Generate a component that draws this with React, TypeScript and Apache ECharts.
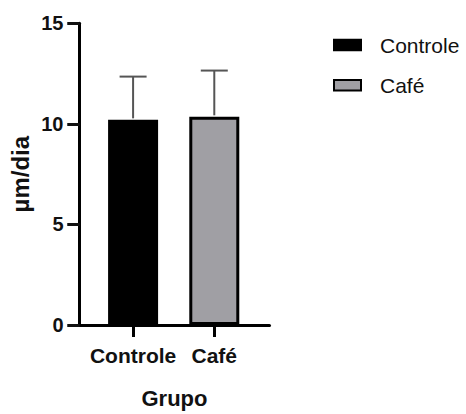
import React, { useEffect, useRef } from "react";
import * as echarts from "echarts";

const categories = ["Controle", "Café"];
const means = [10.2, 10.35];
const sds = [2.15, 2.3];
const yMin = 0;
const yMax = 15;
const yInterval = 5;
const xAxisName = "Grupo";
const yAxisName = "µm/dia";
const barColors = ["#000000", "#a09fa4"];

export default function App() {
  const ref = useRef<HTMLDivElement>(null);
  useEffect(() => {
    document.body.style.margin = "0";
    const chart = echarts.init(ref.current!, null, { renderer: "svg" });
    const font = "'Liberation Sans', Arial, sans-serif";
    const barSeries = categories.map((name, i) => ({
      name,
      type: "bar",
      data: [[i, means[i]]],
      barWidth: 50,
      barGap: "-100%",
      itemStyle: { color: barColors[i], borderColor: "#000", borderWidth: 3 },
      z: 2,
    }));
    const errData = categories.map((_, i) => [i, means[i], means[i] + sds[i]]);
    const yCommon = {
      type: "value",
      min: yMin,
      max: yMax,
      interval: yInterval,
      splitLine: { show: false },
    };
    chart.setOption({
      animation: false,
      backgroundColor: "#fff",
      grid: { left: 79.5, top: 23.3, width: 190, height: 304.4 },
      legend: {
        data: categories,
        orient: "vertical",
        left: 333,
        top: 34.5,
        padding: 0,
        icon: "rect",
        itemWidth: 27,
        itemHeight: 10.5,
        itemGap: 19.3,
        textStyle: {
          fontFamily: font,
          fontSize: 21,
          color: "#111",
          lineHeight: 21,
          padding: [0, 0, 0, 14],
        },
      },
      xAxis: {
        type: "value",
        min: -0.66,
        max: 1.68,
        name: xAxisName,
        nameLocation: "middle",
        nameGap: 62,
        nameTextStyle: { fontFamily: font, fontSize: 22, fontWeight: "bold", color: "#111" },
        splitLine: { show: false },
        axisLine: { show: true, onZero: false, lineStyle: { color: "#000", width: 3 } },
        axisTick: { show: true, customValues: [0, 1], length: 12, lineStyle: { color: "#000", width: 3 } },
        axisLabel: {
          customValues: [0, 1],
          formatter: (v: number) => categories[Math.round(v)] ?? "",
          margin: 20,
          fontFamily: font,
          fontSize: 21,
          fontWeight: "bold",
          color: "#111",
        },
      },
      yAxis: [
        {
          ...yCommon,
          name: yAxisName,
          nameLocation: "middle",
          nameGap: 47,
          nameTextStyle: { fontFamily: font, fontSize: 24, fontWeight: "bold", color: "#111" },
          axisLine: { show: true, onZero: false, lineStyle: { color: "#000", width: 3 } },
          axisTick: { show: true, inside: false, length: 12, lineStyle: { color: "#111", width: 3 } },
          axisLabel: {
            margin: 16,
            fontFamily: font,
            fontSize: 20,
            fontWeight: "bold",
            color: "#111",
          },
        },
        {
          ...yCommon,
          position: "left",
          offset: 12,
          axisLine: { show: false, onZero: false },
          axisTick: { show: true, inside: true, length: 12, lineStyle: { color: "#111", width: 3 } },
          axisLabel: { show: false },
        },
      ],
      series: [
        ...barSeries,
        {
          name: "err",
          type: "custom",
          data: errData,
          z: 3,
          renderItem: (_params: any, api: any) => {
            const x = api.value(0);
            const base = api.coord([x, api.value(1)]);
            const top = api.coord([x, api.value(2)]);
            const half = 13.5;
            const style = { stroke: "#555", lineWidth: 2 };
            return {
              type: "group",
              children: [
                { type: "line", shape: { x1: base[0], y1: base[1] - 1.5, x2: top[0], y2: top[1] }, style },
                { type: "line", shape: { x1: top[0] - half, y1: top[1], x2: top[0] + half, y2: top[1] }, style },
              ],
            };
          },
        },
      ],
    });
    return () => chart.dispose();
  }, []);
  return <div ref={ref} style={{ width: 466, height: 414 }} />;
}
